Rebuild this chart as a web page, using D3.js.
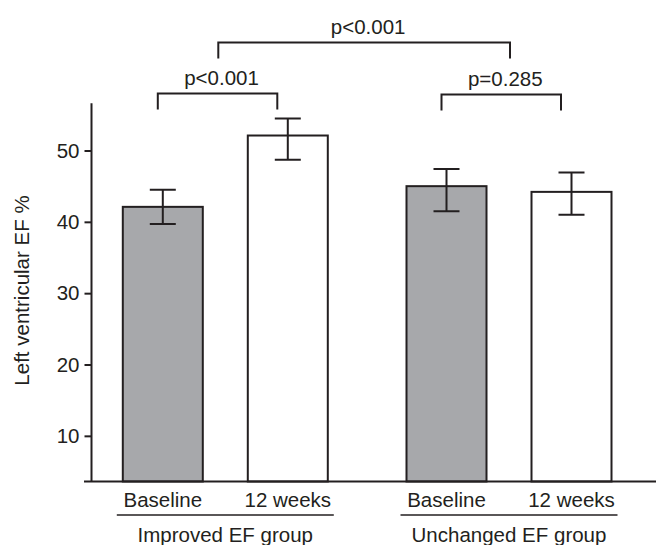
<!DOCTYPE html>
<meta charset="utf-8">
<style>

body {
  margin: 0;
  background: #fff;
}

text {
  font-family: "Liberation Sans", Arial, sans-serif;
  font-size: 20.5px;
  fill: #231f20;
}

.bar {
  stroke: #231f20;
  stroke-width: 2px;
}

.line {
  fill: none;
  stroke: #231f20;
  stroke-width: 2px;
}

</style>
<body>
<script src="https://cdnjs.cloudflare.com/ajax/libs/d3/7.8.5/d3.min.js"></script>
<script>

var width = 656,
    height = 545;

// values
var groups = ["Improved EF group", "Unchanged EF group"];
var times = ["Baseline", "12 weeks"];
var means = [42.1, 52.1, 45.0, 44.2];
var upper = [44.5, 54.5, 47.4, 46.9];
var lower = [39.7, 48.7, 41.5, 41.0];
var yTicks = [10, 20, 30, 40, 50];
var pLabels = ["p<0.001", "p=0.285", "p<0.001"];

var bars = means.map(function(m, i) {
  return {
    group: groups[Math.floor(i / 2)],
    time: times[i % 2],
    fill: i % 2 === 0 ? "#a7a8ab" : "#fff",
    mean: m,
    hi: upper[i],
    lo: lower[i]
  };
});

var svg = d3.select("body").append("svg")
    .attr("width", width)
    .attr("height", height);

var y = d3.scaleLinear()
    .domain([3.6, 56.7])
    .range([481.5, 102.7]);

var xGroup = d3.scalePoint()
    .domain(groups)
    .range([225.3, 509]);

var xTime = d3.scalePoint()
    .domain(times)
    .range([-62.5, 62.5]);

var barWidth = 80;

function cx(d) { return xGroup(d.group) + xTime(d.time); }

// y axis
var yAxis = d3.axisLeft(y)
    .tickValues(yTicks)
    .tickSize(6.5)
    .tickSizeOuter(0)
    .tickPadding(5);

var ga = svg.append("g")
    .attr("transform", "translate(91,0)")
    .call(yAxis);
ga.select(".domain").attr("stroke", "#231f20").attr("stroke-width", 2);
ga.selectAll(".tick line").attr("stroke", "#231f20").attr("stroke-width", 2);
ga.selectAll(".tick text")
    .attr("fill", "#231f20")
    .style("font-size", "20.5px")
    .style("font-family", "'Liberation Sans', Arial, sans-serif");

svg.append("text")
    .attr("transform", "translate(28.5," + 290.5 + ") rotate(-90)")
    .attr("text-anchor", "middle")
    .text("Left ventricular EF %");

// bars
svg.selectAll(".bar")
    .data(bars)
  .enter().append("rect")
    .attr("class", "bar")
    .attr("x", function(d) { return cx(d) - barWidth / 2; })
    .attr("y", function(d) { return y(d.mean); })
    .attr("width", barWidth)
    .attr("height", function(d) { return y.range()[0] - y(d.mean); })
    .attr("fill", function(d) { return d.fill; });

// x axis line
svg.append("line")
    .attr("class", "line")
    .attr("x1", 84)
    .attr("x2", width)
    .attr("y1", y.range()[0])
    .attr("y2", y.range()[0]);

// error bars
var cap = 13;
var err = svg.selectAll(".err")
    .data(bars)
  .enter().append("path")
    .attr("class", "line err")
    .attr("d", function(d) {
      var x = cx(d);
      return "M" + (x - cap) + "," + y(d.hi) + "H" + (x + cap) +
             "M" + x + "," + y(d.hi) + "V" + y(d.lo) +
             "M" + (x - cap) + "," + y(d.lo) + "H" + (x + cap);
    });

// category labels
svg.selectAll(".cat")
    .data(bars)
  .enter().append("text")
    .attr("x", cx)
    .attr("y", 507)
    .attr("text-anchor", "middle")
    .text(function(d) { return d.time; });

// group labels and underline
groups.forEach(function(g) {
  svg.append("line")
      .attr("class", "line")
      .attr("x1", xGroup(g) - 108.5)
      .attr("x2", xGroup(g) + 108.5)
      .attr("y1", 515)
      .attr("y2", 515)
      .style("stroke-width", 1.5);
  svg.append("text")
      .attr("x", xGroup(g))
      .attr("y", 541.5)
      .attr("text-anchor", "middle")
      .text(g);
});

// significance brackets
var brackets = [
  {x1: cx(bars[0]) - 5, x2: cx(bars[1]) - 10.5, top: 93.5, label: pLabels[0]},
  {x1: cx(bars[2]) - 5, x2: cx(bars[3]) - 10.5, top: 94.5, label: pLabels[1]},
  {x1: xGroup(groups[0]) - 7, x2: xGroup(groups[1]) + 1, top: 42.5, label: pLabels[2]}
];

svg.selectAll(".bracket")
    .data(brackets)
  .enter().append("path")
    .attr("class", "line bracket")
    .attr("d", function(d) {
      return "M" + d.x1 + "," + (d.top + 16) + "V" + d.top +
             "H" + d.x2 + "V" + (d.top + 16);
    });

svg.selectAll(".plabel")
    .data(brackets)
  .enter().append("text")
    .attr("x", function(d) { return (d.x1 + d.x2) / 2 + 4; })
    .attr("y", function(d) { return d.top - 9; })
    .attr("text-anchor", "middle")
    .text(function(d) { return d.label; });

</script>
